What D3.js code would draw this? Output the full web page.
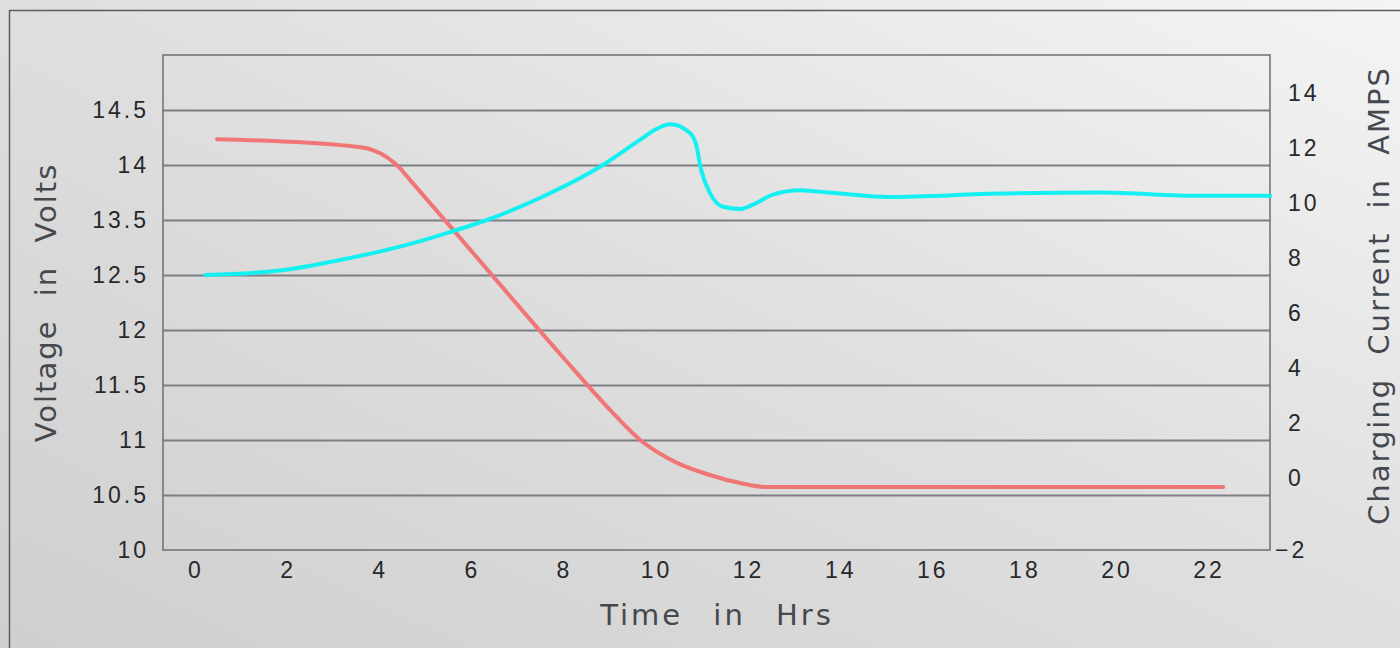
<!DOCTYPE html>
<html>
<head>
<meta charset="utf-8">
<script src="https://cdn.jsdelivr.net/npm/d3@7"></script>
<style>
  html, body { margin: 0; padding: 0; }
  body { width: 1400px; height: 648px; overflow: hidden; }
  svg { display: block; font-family: "DejaVu Sans", sans-serif; }
</style>
</head>
<body>
<div id="chart"></div>
<script>
const WIDTH  = 1400;
const HEIGHT = 648;
const M = { left: 163, top: 55, right: 130, bottom: 98 };
const PW = WIDTH - M.left - M.right;   // 1107
const PH = HEIGHT - M.top - M.bottom;  // 495

// tick labels as printed on the chart (the left axis skips 13)
const voltTicks = [10, 10.5, 11, 11.5, 12, 12.5, 13.5, 14, 14.5];
const ampTicks  = [-2, 0, 2, 4, 6, 8, 10, 12, 14];
const hourTicks = [0, 2, 4, 6, 8, 10, 12, 14, 16, 18, 20, 22];

// voltage (cyan, left axis)
const voltHours  = [0.24, 1.87, 3.28, 4.76, 5.56, 6.36, 7.51, 8.88, 9.69, 10.01, 10.34, 10.77, 10.92, 10.99, 11.2, 11.49, 11.86, 12.14, 12.57, 13.16, 13.53, 15.05, 17.5, 19.67, 21.85, 23.37];
const voltValues = [12.5, 12.58, 12.79, 13.08, 13.28, 13.5, 13.7, 14.0, 14.23, 14.32, 14.37, 14.29, 14.16, 14.0, 13.75, 13.62, 13.6, 13.64, 13.73, 13.77, 13.76, 13.71, 13.74, 13.75, 13.72, 13.72];

// charging current (red, right axis)
const ampHours  = [0.5, 3.39, 3.87, 4.21, 4.47, 4.69, 5.56, 6.64, 7.95, 9.1, 9.69, 10.49, 11.2, 11.86, 12.4, 22.35];
const ampValues = [12.32, 12.07, 11.93, 11.64, 11.27, 10.84, 9.16, 7.05, 4.51, 2.36, 1.38, 0.55, 0.11, -0.14, -0.25, -0.25];

const svg = d3.select("#chart").append("svg")
  .attr("width", WIDTH).attr("height", HEIGHT);

// background gradient
const defs = svg.append("defs");
const grad = defs.append("linearGradient")
  .attr("id", "bg").attr("x1", "0%").attr("y1", "100%").attr("x2", "100%").attr("y2", "0%");
grad.append("stop").attr("offset", "0%").attr("stop-color", "#cfcfcf");
grad.append("stop").attr("offset", "55%").attr("stop-color", "#e0e0e0");
grad.append("stop").attr("offset", "100%").attr("stop-color", "#f4f4f4");
svg.append("rect").attr("width", WIDTH).attr("height", HEIGHT).attr("fill", "url(#bg)");

// outer frame (top + left)
svg.append("path")
  .attr("d", `M9.5,${HEIGHT} L9.5,10.5 L${WIDTH},10.5`)
  .attr("fill", "none").attr("stroke", "#5a5d62").attr("stroke-width", 1.5);

// scales
const x = d3.scaleLinear().domain([-0.673, 23.366]).range([M.left, M.left + PW]);
const yL = d3.scaleLinear().domain([10, 12.5, 13.5, 15]).range([M.top + PH, 275, 220, M.top]);
const yR = d3.scaleLinear().domain([-2, 0, 15.382]).range([M.top + PH, 478, M.top]);

// gridlines
svg.append("g")
  .attr("transform", `translate(${M.left},0)`)
  .call(d3.axisLeft(yL).tickValues(voltTicks.slice(1)).tickSize(-PW).tickFormat(""))
  .call(g => g.select(".domain").remove())
  .call(g => g.selectAll("line").attr("stroke", "#7c7f84").attr("stroke-width", 2));

// plot border
svg.append("rect")
  .attr("x", M.left).attr("y", M.top).attr("width", PW).attr("height", PH)
  .attr("fill", "none").attr("stroke", "#6c6f74").attr("stroke-width", 1.5);

const tickStyle = g => {
  g.select(".domain").remove();
  g.selectAll("line").remove();
  g.selectAll("text")
    .attr("fill", "#26282c")
    .style("font-size", "23px")
    .style("letter-spacing", "3px");
};

// left axis
svg.append("g")
  .attr("transform", `translate(${M.left},0)`)
  .call(d3.axisLeft(yL).tickValues(voltTicks).tickSize(0).tickPadding(14).tickFormat(d3.format("")))
  .call(tickStyle);

// right axis
svg.append("g")
  .attr("transform", `translate(${M.left + PW},0)`)
  .call(d3.axisRight(yR).tickValues(ampTicks).tickSize(0).tickPadding(18).tickFormat(d3.format("")))
  .call(tickStyle)
  .call(g => g.selectAll("text").filter(d => d < 0).attr("dx", "-13px"));

// bottom axis
svg.append("g")
  .attr("transform", `translate(0,${M.top + PH})`)
  .call(d3.axisBottom(x).tickValues(hourTicks).tickSize(0).tickPadding(12).tickFormat(d3.format("")))
  .call(tickStyle)
  .call(g => g.selectAll("text").attr("dx", "1.5px"));

// axis titles
const titleStyle = t => t
  .attr("fill", "#45484d")
  .attr("text-anchor", "middle")
  .style("font-size", "29px")
  .style("letter-spacing", "2px")
  .style("word-spacing", "12px");

svg.append("text")
  .attr("transform", `translate(56,${(165 + 440) / 2}) rotate(-90)`)
  .call(titleStyle)
  .text("Voltage in Volts");

svg.append("text")
  .attr("transform", `translate(1389,${(68 + 523) / 2}) rotate(-90)`)
  .call(titleStyle)
  .text("Charging Current in AMPS");

svg.append("text")
  .attr("x", 717).attr("y", 625)
  .call(titleStyle)
  .style("letter-spacing", "3px")
  .style("word-spacing", "18px")
  .text("Time in Hrs");

// lines
const voltLine = d3.line()
  .x((d, i) => x(voltHours[i]))
  .y(d => yL(d))
  .curve(d3.curveMonotoneX);

const ampLine = d3.line()
  .x((d, i) => x(ampHours[i]))
  .y(d => yR(d))
  .curve(d3.curveMonotoneX);

svg.append("path")
  .attr("d", ampLine(ampValues))
  .attr("fill", "none")
  .attr("stroke", "#f07676")
  .attr("stroke-width", 4)
  .attr("stroke-linecap", "round");

svg.append("path")
  .attr("d", voltLine(voltValues))
  .attr("fill", "none")
  .attr("stroke", "#14f0f2")
  .attr("stroke-width", 4)
  .attr("stroke-linecap", "round");
</script>
</body>
</html>
